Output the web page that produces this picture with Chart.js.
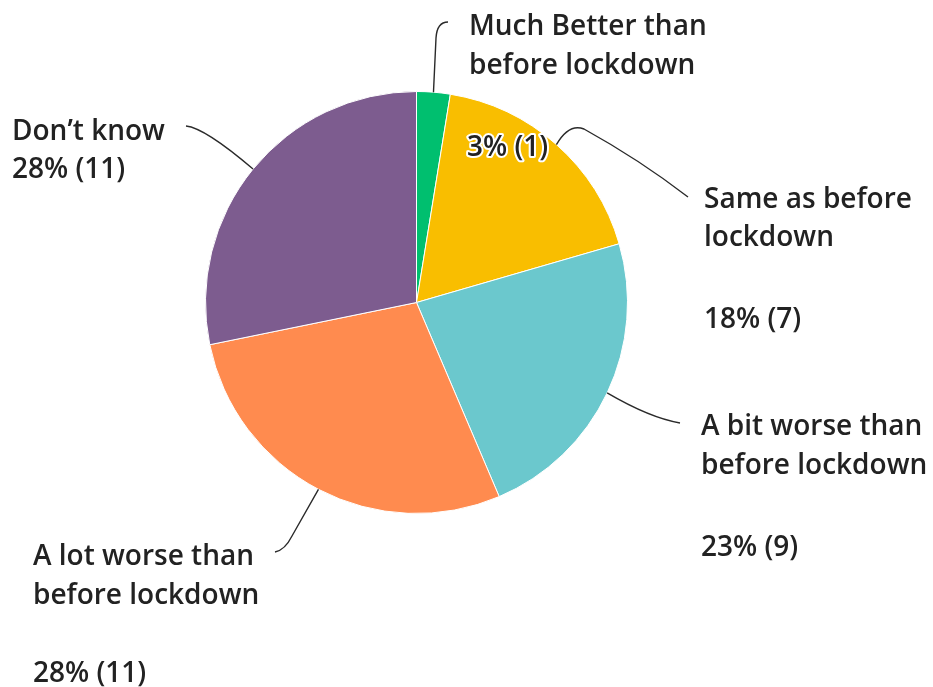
<!DOCTYPE html>
<html>
<head>
<meta charset="utf-8">
<script src="https://cdn.jsdelivr.net/npm/chart.js@4.4.0/dist/chart.umd.min.js"></script>
<style>
  html, body { margin: 0; padding: 0; background: #fff; }
  #wrap { width: 933px; height: 687px; position: relative; }
</style>
</head>
<body>
<div id="wrap"><canvas id="pie"></canvas></div>
<script>
// answers, in clockwise order from 12 o'clock
var categories = [
  ['Much Better than', 'before lockdown'],
  ['Same as before', 'lockdown'],
  ['A bit worse than', 'before lockdown'],
  ['A lot worse than', 'before lockdown'],
  ['Don\u2019t know']
];
var counts = [1, 7, 9, 11, 11];
var colors = ['#00BF6F', '#F9BE00', '#6BC8CD', '#FF8B4F', '#7D5C8F'];

// where each callout sits (text x, line y's, value y, leader path)
var callouts = [
  {x: 469, lines: [27, 66], valX: 467, valY: 148, halo: true,
   leader: function(ctx, p){ ctx.moveTo(p.x, p.y); ctx.lineTo(436, 38); ctx.quadraticCurveTo(437, 22, 448, 22); }},
  {x: 704, lines: [200, 238], valY: 320,
   leader: function(ctx, p){ ctx.moveTo(p.x, p.y); ctx.quadraticCurveTo(569, 123, 584, 129); ctx.quadraticCurveTo(640, 160, 688, 197); }},
  {x: 701, lines: [427, 466], valY: 548,
   leader: function(ctx, p){ ctx.moveTo(p.x, p.y); ctx.quadraticCurveTo(650, 418, 680, 423); }},
  {x: 33, lines: [557, 596], valY: 674,
   leader: function(ctx, p){ ctx.moveTo(p.x, p.y); ctx.lineTo(292, 536); ctx.quadraticCurveTo(285, 550, 275, 552); }},
  {x: 12, lines: [132], valY: 170,
   leader: function(ctx, p){ ctx.moveTo(p.x, p.y); ctx.quadraticCurveTo(205, 128, 186, 126); }}
];

var calloutPlugin = {
  id: 'callouts',
  afterDraw(chart){
    var ctx = chart.ctx;
    var arcs = chart.getDatasetMeta(0).data;
    var total = counts.reduce((a, b) => a + b, 0);
    ctx.save();
    arcs.forEach((arc, i) => {
      var c = callouts[i];
      var mid = (arc.startAngle + arc.endAngle) / 2;
      var p = {x: arc.x + Math.cos(mid) * arc.outerRadius, y: arc.y + Math.sin(mid) * arc.outerRadius};
      ctx.beginPath();
      c.leader(ctx, p);
      ctx.strokeStyle = '#2a2a2a';
      ctx.lineWidth = 1.4;
      ctx.stroke();

      ctx.font = '600 28px "Open Sans"';
      ctx.textBaseline = 'middle';
      ctx.textAlign = 'left';
      ctx.fillStyle = '#222';
      categories[i].forEach((t, k) => ctx.fillText(t, c.x, c.lines[k]));

      var val = Math.round(counts[i] / total * 100) + '% (' + counts[i] + ')';
      var vx = c.valX !== undefined ? c.valX : c.x;
      if (c.halo) {
        ctx.lineJoin = 'round';
        ctx.lineWidth = 4;
        ctx.strokeStyle = '#fff';
        ctx.strokeText(val, vx, c.valY);
      }
      ctx.fillText(val, vx, c.valY);
    });
    ctx.restore();
  }
};

new Chart(document.getElementById('pie'), {
  type: 'pie',
  data: {
    labels: categories.map(l => l.join(' ')),
    datasets: [{
      data: counts,
      backgroundColor: colors,
      borderColor: '#fff',
      borderWidth: 1,
      hoverOffset: 0
    }]
  },
  options: {
    responsive: true,
    maintainAspectRatio: false,
    animation: false,
    layout: { padding: { left: 205, right: 305, top: 91, bottom: 173 } },
    plugins: {
      legend: { display: false },
      tooltip: { enabled: false }
    }
  },
  plugins: [calloutPlugin]
});
</script>
</body>
</html>
